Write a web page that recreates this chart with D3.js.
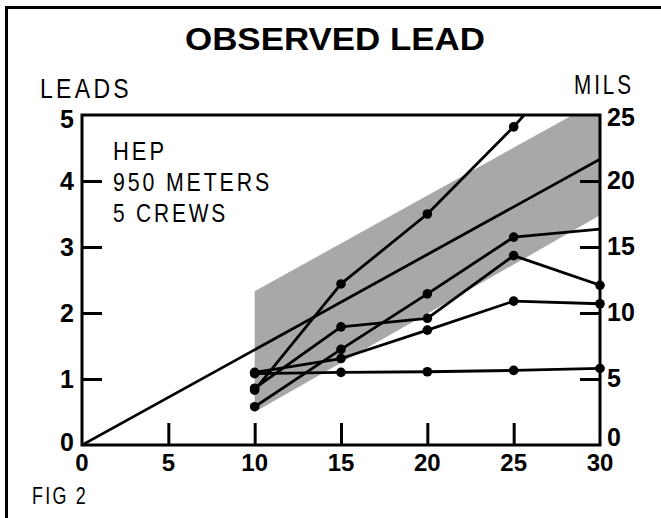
<!DOCTYPE html>
<html>
<head>
<meta charset="utf-8">
<script src="https://cdn.jsdelivr.net/npm/d3@7"></script>
<style>
  html, body { margin: 0; padding: 0; background: #fff; }
  svg { display: block; }
</style>
</head>
<body>
<svg id="chart" width="661" height="518"></svg>
<script>
// ---- data ----
const ranges = [10, 15, 20, 25, 30];           // x categories (hundreds of meters)
const leadTicks = [0, 1, 2, 3, 4, 5];
const milTicks = [0, 5, 10, 15, 20, 25];
const rangeTicks = [0, 5, 10, 15, 20, 25, 30];

const seriesA = [0.83, 2.44, 3.50, 4.82, 6.30];
const seriesB = [0.86, 1.79, 1.92, 2.87, 2.42];
const seriesC = [0.58, 1.45, 2.29, 3.15, 3.27];
const seriesD = [1.10, 1.31, 1.74, 2.18, 2.14];
const seriesE = [1.08, 1.10, 1.11, 1.13, 1.16];
const dotsA = [true, true, true, true, false];
const dotsB = [true, true, true, true, true];
const dotsC = [true, true, true, true, false];
const dotsD = [true, true, true, true, true];
const dotsE = [true, true, true, true, true];

const meanLineX = [0, 30];
const meanLineY = [0, 4.33];

const bandX = [10, 30];
const bandUpper = [2.33, 5.23];
const bandLower = [0.50, 3.48];

const noteLines = ["HEP", "950 METERS", "5 CREWS"];

// ---- drawing ----
const svg = d3.select("#chart");
const x = d3.scaleLinear().domain([0, 30]).range([82, 600]);
const y = d3.scaleLinear().domain([0, 5]).range([445, 115]);
const yMils = d3.scaleLinear().domain([0, 25]).range([445, 115]);

const light = "'Liberation Sans', Arial, sans-serif";
const bold = "'Liberation Sans', Arial, sans-serif";

// outer frame
svg.append("rect").attr("x", 6.5).attr("y", 7.5).attr("width", 700).attr("height", 600)
  .attr("fill", "none").attr("stroke", "#000").attr("stroke-width", 3);

// clip
svg.append("defs").append("clipPath").attr("id", "plotclip")
  .append("rect").attr("x", x(0)).attr("y", y(5)).attr("width", x(30) - x(0)).attr("height", y(0) - y(5));

const plot = svg.append("g").attr("clip-path", "url(#plotclip)");

// band
const bandPts = [
  [bandX[0], bandLower[0]], [bandX[0], bandUpper[0]],
  [bandX[1], bandUpper[1]], [bandX[1], bandLower[1]]
];
plot.append("path")
  .attr("d", d3.line().x(d => x(d[0])).y(d => y(d[1]))(bandPts) + "Z")
  .attr("fill", "#a8a8a8").attr("stroke", "none");

// mean line
plot.append("path")
  .attr("d", d3.line().x(d => x(d[0])).y(d => y(d[1]))(meanLineX.map((v, i) => [v, meanLineY[i]])))
  .attr("fill", "none").attr("stroke", "#000").attr("stroke-width", 2.8);

const allSeries = [
  [seriesA, dotsA], [seriesB, dotsB], [seriesC, dotsC], [seriesD, dotsD], [seriesE, dotsE]
];
const line = d3.line().x((d, i) => x(ranges[i])).y(d => y(d));
allSeries.forEach(([vals]) => {
  plot.append("path").attr("d", line(vals))
    .attr("fill", "none").attr("stroke", "#000").attr("stroke-width", 2.8)
    .attr("stroke-linejoin", "round");
});
allSeries.forEach(([vals, dots]) => {
  vals.forEach((v, i) => {
    if (!dots[i]) return;
    svg.append("circle").attr("cx", x(ranges[i])).attr("cy", y(v)).attr("r", 4.8).attr("fill", "#000");
  });
});

// plot frame
svg.append("rect").attr("x", x(0)).attr("y", y(5)).attr("width", x(30) - x(0)).attr("height", y(0) - y(5))
  .attr("fill", "none").attr("stroke", "#000").attr("stroke-width", 3);

// axes via d3
const leftAxis = d3.axisLeft(y).tickValues(leadTicks.slice(1, -1)).tickSize(-20).tickFormat("");
svg.append("g").attr("transform", `translate(${x(0)},0)`).call(leftAxis)
  .call(g => g.select(".domain").remove())
  .call(g => g.selectAll("line").attr("stroke", "#000").attr("stroke-width", 3));

const rightAxis = d3.axisRight(yMils).tickValues(milTicks.slice(1, -1)).tickSize(-20).tickFormat("");
svg.append("g").attr("transform", `translate(${x(30)},0)`).call(rightAxis)
  .call(g => g.select(".domain").remove())
  .call(g => g.selectAll("line").attr("stroke", "#000").attr("stroke-width", 3));

const bottomAxis = d3.axisBottom(x).tickValues(rangeTicks.slice(1, -1)).tickSize(-22).tickFormat("");
svg.append("g").attr("transform", `translate(0,${y(0)})`).call(bottomAxis)
  .call(g => g.select(".domain").remove())
  .call(g => g.selectAll("line").attr("stroke", "#000").attr("stroke-width", 3));

// tick labels
svg.append("g").selectAll("text").data(leadTicks).join("text")
  .attr("x", 74).attr("y", d => y(d) + (d === 5 ? 13 : d === 0 ? 6 : 8.5))
  .attr("text-anchor", "end").attr("font-family", bold).attr("font-weight", "bold")
  .attr("font-size", 25).text(d => d);

svg.append("g").selectAll("text").data(milTicks).join("text")
  .attr("x", 607).attr("y", d => yMils(d) + (d === 25 ? 11 : d === 0 ? 1 : 7.5))
  .attr("text-anchor", "start").attr("font-family", bold).attr("font-weight", "bold")
  .attr("font-size", 25).text(d => d);

svg.append("g").selectAll("text").data(rangeTicks).join("text")
  .attr("x", d => x(d)).attr("y", 471)
  .attr("text-anchor", "middle").attr("font-family", bold).attr("font-weight", "bold")
  .attr("font-size", 24).text(d => d);

// title
svg.append("text").attr("x", 185).attr("y", 50)
  .attr("font-family", bold).attr("font-weight", "bold").attr("font-size", 31)
  .attr("textLength", 300).attr("lengthAdjust", "spacingAndGlyphs")
  .text("OBSERVED  LEAD");

// helper for light spaced text
function lightText(t, px, py, size, w, ls) {
  svg.append("text").attr("x", px).attr("y", py)
    .attr("font-family", light).attr("font-size", size)
    .attr("letter-spacing", ls)
    .attr("textLength", w).attr("lengthAdjust", "spacingAndGlyphs").text(t);
}

// axis titles
lightText("LEADS", 40, 98, 28, 92, 4);
lightText("MILS", 574, 94, 28, 60, 4);

// note
const noteW = [54, 159, 115];
const noteY = [160, 191, 222];
noteLines.forEach((t, i) => lightText(t, 113, noteY[i], 26, noteW[i], 3.5));

// fig label
lightText("FIG 2", 32, 504, 24, 56, 3);
</script>
</body>
</html>
